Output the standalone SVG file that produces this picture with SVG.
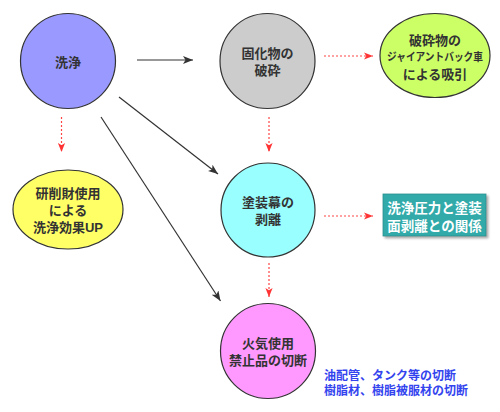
<svg xmlns="http://www.w3.org/2000/svg" width="500" height="412" viewBox="0 0 500 412">
<defs>
<style>
.node{stroke:#333;stroke-width:1.2}
.lbl{font-family:"Liberation Sans","Noto Sans CJK JP","Noto Sans CJK SC",sans-serif;font-size:13px;font-weight:bold;fill:#333;text-anchor:middle;dominant-baseline:central}
.solid{stroke:#333;stroke-width:1.2;fill:none}
.dash{stroke:#ff4444;stroke-width:1.2;stroke-dasharray:2 2;fill:none}
.note{font-family:"Liberation Sans","Noto Sans CJK JP",sans-serif;font-size:12px;font-weight:bold;fill:#3344ee;dominant-baseline:central}
</style>
<marker id="ah" viewBox="0 0 10 8" refX="10" refY="4" markerWidth="10" markerHeight="8" markerUnits="userSpaceOnUse" orient="auto">
<path d="M0,0 L10,4 L0,8 L2.5,4 Z" fill="#333"/>
</marker>
<marker id="ahr" viewBox="0 0 10 8" refX="10" refY="4" markerWidth="9" markerHeight="8" markerUnits="userSpaceOnUse" orient="auto">
<path d="M0,0 L10,4 L0,8 L2.5,4 Z" fill="#ff3333"/>
</marker>
<filter id="sh" x="-10%" y="-10%" width="130%" height="140%">
<feDropShadow dx="2" dy="2" stdDeviation="1" flood-color="#888" flood-opacity="0.7"/>
</filter>
</defs>
<rect width="500" height="412" fill="#fff"/>
<g id="connectors">
<line class="solid" x1="137" y1="60" x2="193" y2="60" marker-end="url(#ah)"/>
<line class="solid" x1="119" y1="97" x2="218" y2="174" marker-end="url(#ah)"/>
<line class="solid" x1="101" y1="117" x2="220.5" y2="301" marker-end="url(#ah)"/>
<line class="dash" x1="61.5" y1="117" x2="61.5" y2="152" marker-end="url(#ahr)"/>
<line class="dash" x1="324" y1="56" x2="373" y2="56" marker-end="url(#ahr)"/>
<line class="dash" x1="269" y1="117" x2="269" y2="152" marker-end="url(#ahr)"/>
<line class="dash" x1="324" y1="216" x2="373" y2="216" marker-end="url(#ahr)"/>
<line class="dash" x1="269" y1="263" x2="269" y2="297" marker-end="url(#ahr)"/>
</g>
<g id="senjo">
<circle class="node" cx="68" cy="61" r="47.5" fill="#9999ff"/>
<text class="lbl" x="68" y="62">洗浄</text>
</g>
<g id="koka">
<circle class="node" cx="267.5" cy="61" r="47.5" fill="#cccccc"/>
<text class="lbl" x="267.5" y="53">固化物の</text>
<text class="lbl" x="267.5" y="70">破砕</text>
</g>
<g id="hasai">
<ellipse class="node" cx="435" cy="55.5" rx="55" ry="42" fill="#ccff66"/>
<text class="lbl" x="435" y="40">破砕物の</text>
<text class="lbl" x="435" y="57" style="font-size:11px" textLength="96" lengthAdjust="spacingAndGlyphs">ジャイアントバック車</text>
<text class="lbl" x="435" y="74">による吸引</text>
</g>
<g id="kensaku">
<ellipse class="node" cx="68" cy="209.5" rx="55" ry="39.5" fill="#ffff66"/>
<text class="lbl" x="68" y="193">研削財使用</text>
<text class="lbl" x="68" y="210">による</text>
<text class="lbl" x="68" y="227">洗浄効果UP</text>
</g>
<g id="tosou">
<circle class="node" cx="268" cy="210" r="47" fill="#99ffff"/>
<text class="lbl" x="268" y="202">塗装幕の</text>
<text class="lbl" x="268" y="219">剥離</text>
</g>
<g id="kaki">
<circle class="node" cx="268" cy="351" r="47.5" fill="#ff99ff"/>
<text class="lbl" x="268" y="343">火気使用</text>
<text class="lbl" x="268" y="360">禁止品の切断</text>
</g>
<g id="kankei">
<rect x="383" y="194" width="103" height="42" fill="#33aaaa" stroke="#2a9090" stroke-width="0.8" filter="url(#sh)"/>
<text class="lbl" x="434.5" y="208" style="fill:#fff;font-size:13.5px">洗浄圧力と塗装</text>
<text class="lbl" x="434.5" y="226" style="fill:#fff;font-size:13.5px">面剥離との関係</text>
</g>
<g id="note">
<text class="note" x="324" y="376">油配管、タンク等の切断</text>
<text class="note" x="324" y="391">樹脂材、樹脂被服材の切断</text>
</g>
</svg>
